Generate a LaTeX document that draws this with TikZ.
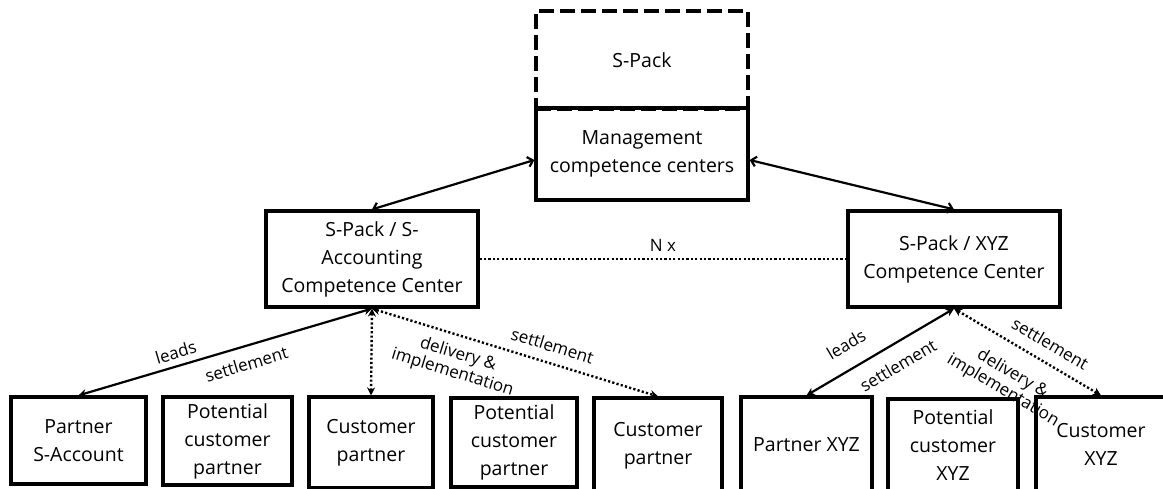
\documentclass[tikz,border=0pt]{standalone}
\usepackage{fontspec}
\setmainfont{Open Sans}
\usetikzlibrary{arrows.meta}
\begin{document}
\begin{tikzpicture}[x=1pt,y=-1pt,
  box/.style={draw,line width=3.2pt,align=center,inner sep=0pt,font=\fontsize{19.5}{28}\selectfont},
  dbox/.style={box,dash pattern=on 15pt off 6pt},
  conn/.style={line width=2.2pt},
  dotl/.style={line width=2.4pt,dash pattern=on 2.2pt off 2.2pt},
  toparr/.style={{Straight Barb[length=5pt,width=10pt]}-{Straight Barb[length=5pt,width=10pt]}},
  botarr/.style={{Stealth[length=8pt,width=8pt]}-{Stealth[length=8pt,width=8pt]}},
  lab/.style={inner sep=0pt,font=\fontsize{17}{19}\selectfont,align=center,sloped}]
\useasboundingbox[fill=white] (0,0) rectangle (1163,488);
% top boxes
\node[dbox,minimum width=212pt,minimum height=98pt] (spack) at (642,60) {S-Pack};
\node[box,minimum width=212pt,minimum height=92pt] (mgmt) at (642,154) {Management\\competence centers};
\node[box,minimum width=212pt,minimum height=96pt] (sacc) at (372,259) {S-Pack / S-\\Accounting\\Competence Center};
\node[box,minimum width=212pt,minimum height=96pt] (xyzc) at (954,259) {S-Pack / XYZ\\Competence Center};
% bottom boxes
\node[box,minimum width=135pt,minimum height=87pt] (b1) at (78.5,440.5) {Partner\\S-Account};
\node[box,minimum width=129pt,minimum height=88pt] (b2) at (227.5,441) {Potential\\customer\\partner};
\node[box,minimum width=124pt,minimum height=91pt] (b3) at (371,442.5) {Customer\\partner};
\node[box,minimum width=126pt,minimum height=89pt] (b4) at (514,442.5) {Potential\\customer\\partner};
\node[box,minimum width=128pt,minimum height=96pt] (b5) at (658,446) {Customer\\partner};
\node[box,minimum width=131pt,minimum height=96pt] (b6) at (806.5,445) {Partner XYZ};
\node[box,minimum width=130pt,minimum height=92pt] (b7) at (953,445) {Potential\\customer\\XYZ};
\node[box,minimum width=130pt,minimum height=94pt] (b8) at (1101,444) {Customer\\XYZ};
% connectors top
\draw[conn,toparr] ([yshift=-6pt]mgmt.west) -- (sacc.north);
\draw[conn,toparr] ([yshift=-6pt]mgmt.east) -- (xyzc.north);
\draw[dotl] (sacc.east) -- node[inner sep=0pt,above=6pt,font=\fontsize{17}{19}\selectfont] {N x} (xyzc.west);
% connectors left bottom
\draw[conn,botarr] (sacc.south) -- node[lab,pos=0.655,above=6pt] {leads} node[lab,pos=0.445,below=10pt] {settlement} (b1.north);
\draw[dotl,botarr] (sacc.south) -- (b3.north);
\draw[dotl,botarr] (sacc.south) -- node[lab,pos=0.613,above=10pt] {settlement} node[lab,pos=0.32,below=9pt] {delivery \&\\implementation} (b5.north);
% connectors right bottom
\draw[conn,botarr] (xyzc.south) -- node[lab,pos=0.65,above=16pt] {leads} node[lab,pos=0.45,below=13pt] {settlement} (b6.north);
\draw[dotl,botarr] (xyzc.south) -- node[lab,pos=0.59,above=11pt] {settlement} node[lab,pos=0.49,below=17pt] {delivery \&\\implementation} (b8.north);
\end{tikzpicture}
\end{document}
